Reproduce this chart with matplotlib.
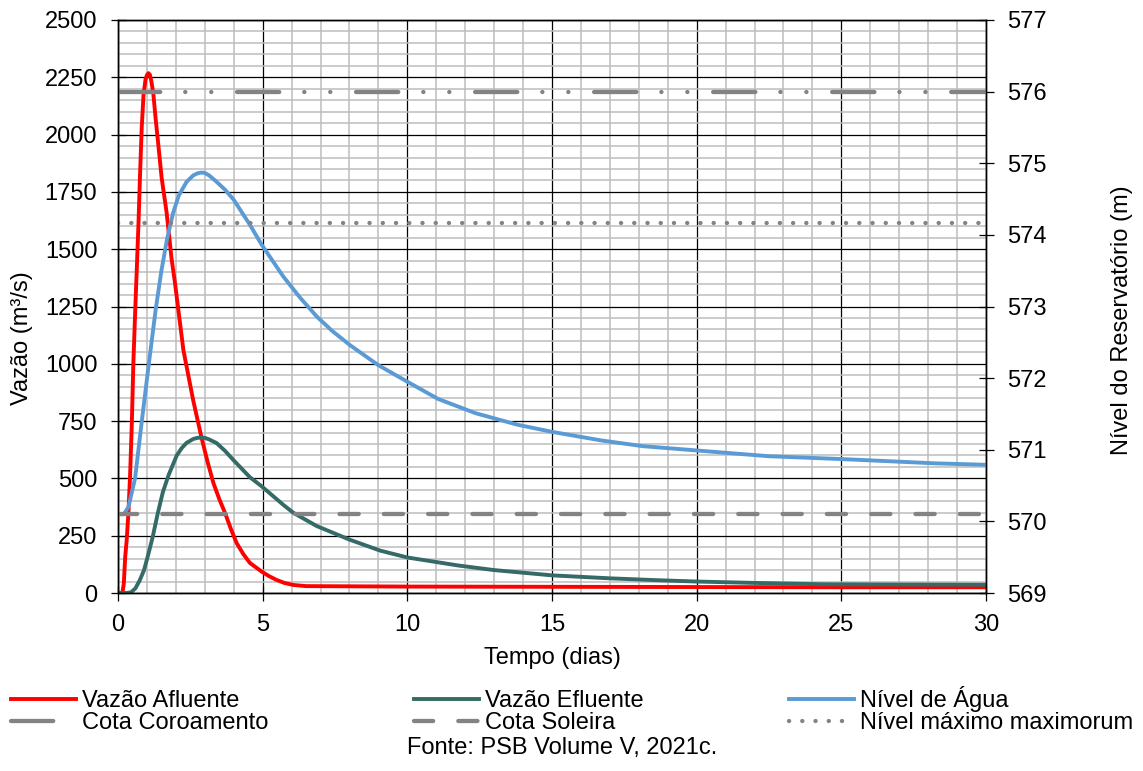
import numpy as np
import matplotlib
matplotlib.use('Agg')
import matplotlib.pyplot as plt
from matplotlib.ticker import MultipleLocator

matplotlib.rcParams['font.family'] = ['Liberation Sans', 'DejaVu Sans']
matplotlib.rcParams['lines.scale_dashes'] = False

# Vazao afluente (m3/s)
t_af = [0, 0.15, 0.2, 0.25, 0.3, 0.36, 0.42, 0.48, 0.53, 0.6, 0.66, 0.71, 0.76,
        0.82, 0.88, 0.95, 1.0, 1.05, 1.1, 1.15, 1.22, 1.3, 1.39, 1.51, 1.68,
        1.85, 1.97, 2.26, 2.6, 2.89, 3.1, 3.3, 3.5, 3.7, 3.9, 4.1, 4.33, 4.56,
        4.97, 5.2, 5.48, 5.75, 6.06, 6.5, 10, 15, 20, 25, 30]
q_af = [0, 0, 40, 160, 230, 350, 520, 750, 1000, 1250, 1450, 1620, 1820,
        2030, 2170, 2240, 2260, 2268, 2262, 2235, 2180, 2070, 1960, 1810, 1660,
        1460, 1352, 1060, 840, 676, 570, 479, 410, 349, 280, 218, 170, 131,
        93, 75, 57, 44, 35, 30, 28, 27, 26, 25, 25]

# Vazao efluente (m3/s)
t_ef = [0, 0.3, 0.45, 0.6, 0.75, 0.9, 1.05, 1.2, 1.37, 1.55, 1.75, 2.03, 2.2,
        2.37, 2.6, 2.75, 2.89, 3.0, 3.15, 3.41, 3.7, 3.99, 4.56, 4.97, 5.71,
        6.06, 6.87, 8.02, 9.06, 10, 11.76, 13, 15, 17, 18.6, 20, 22, 24.4, 27, 30]
q_ef = [0, 0, 3, 20, 55, 100, 170, 245, 345, 440, 515, 600, 632,
        655, 672, 677, 678, 677, 670, 654, 620, 580, 505, 465, 385,
        350, 292, 232, 185, 155, 120, 100, 77, 64, 56, 50, 44, 38, 37, 36]

# Nivel de agua (m)
t_niv = [0, 0.2, 0.36, 0.59, 0.82, 1.05, 1.3, 1.5, 1.7, 1.9, 2.1, 2.37, 2.6,
         2.75, 2.89, 3.0, 3.15, 3.41, 3.7, 4.0, 4.56, 4.97, 5.71, 6.3, 6.87,
         7.4, 8.02, 9.0, 10, 11.06, 12.36, 13.8, 15, 16.7, 18.14, 20, 22.48,
         25, 28.27, 30]
niv = [570.1, 570.1, 570.2, 570.6, 571.39, 572.15, 572.95, 573.5, 573.95,
       574.3, 574.55, 574.74, 574.83, 574.86, 574.87, 574.865, 574.83, 574.74,
       574.63, 574.49, 574.14, 573.86, 573.42, 573.12, 572.86, 572.66, 572.46,
       572.18, 571.95, 571.71, 571.51, 571.35, 571.25, 571.13, 571.05, 570.99,
       570.91, 570.87, 570.81, 570.79]

cota_coroamento = 576.0
cota_soleira = 570.1
nivel_max_max = 574.17

fs = 17
fig = plt.figure(figsize=(11.43, 7.71), dpi=100)
ax = fig.add_axes([118 / 1143, 1 - 593 / 771, 868 / 1143, 573 / 771])
ax2 = ax.twinx()

ax.set_xlim(0, 30)
ax.set_ylim(0, 2500)
ax2.set_ylim(569, 577)

ax.xaxis.set_major_locator(MultipleLocator(5))
ax.xaxis.set_minor_locator(MultipleLocator(1))
ax.yaxis.set_major_locator(MultipleLocator(250))
ax.yaxis.set_minor_locator(MultipleLocator(50))
ax2.yaxis.set_major_locator(MultipleLocator(1))

ax.grid(which='minor', color='#bdbdbd', lw=1.1)
ax.grid(which='major', color='black', lw=0.9)
ax.set_axisbelow(True)

l1, = ax.plot(t_af, q_af, color='#ff0000', lw=2.8, label='Vazão Afluente')
l2, = ax.plot(t_ef, q_ef, color='#356a66', lw=2.8, label='Vazão Efluente')
l3, = ax2.plot(t_niv, niv, color='#5b9bd5', lw=2.8, label='Nível de Água')

gray = '#838383'
l4 = ax2.axhline(cota_coroamento, color=gray, lw=3.1, dash_capstyle='round',
                 dashes=(30.4, 18.0, 0.1, 18.6, 0.1, 18.5), label='Cota Coroamento')
l5 = ax2.axhline(cota_soleira, color=gray, lw=3.1, dash_capstyle='round',
                 dashes=(13.8, 18.1), label='Cota Soleira')
l6 = ax2.axhline(nivel_max_max, color=gray, lw=3.1, dash_capstyle='round',
                 dashes=(0.1, 9.43), label='Nível máximo maximorum')

for a in (ax, ax2):
    a.tick_params(which='major', direction='inout', length=10.8, width=0.9,
                  labelsize=fs, pad=9.5)
    a.tick_params(which='minor', length=0)
    for s in a.spines.values():
        s.set_linewidth(1.0)

fig.text(22 / 1143, 1 - 338 / 771, 'Vazão (m³/s)', rotation=90, fontsize=fs,
         ha='center', va='center')
fig.text(1122 / 1143, 1 - 320 / 771, 'Nível do Reservatório (m)', rotation=90,
         fontsize=fs, ha='center', va='center')
fig.text(552 / 1143, 1 - 658 / 771, 'Tempo (dias)', fontsize=fs,
         ha='center', va='center')

handles = [l1, l4, l2, l5, l3, l6]
fig.legend(handles=handles, labels=[h.get_label() for h in handles],
           loc='center', bbox_to_anchor=(11 / 1143, 1 - 710 / 771, 1122 / 1143, 0),
           mode='expand', ncol=3, frameon=False, fontsize=fs, borderaxespad=0,
           borderpad=0, handlelength=2.75, handletextpad=0.25, labelspacing=0.0)

fig.text(562 / 1143, 1 - 748 / 771, 'Fonte: PSB Volume V, 2021c.', fontsize=fs,
         ha='center', va='center')

plt.savefig('out.png', dpi=100)
